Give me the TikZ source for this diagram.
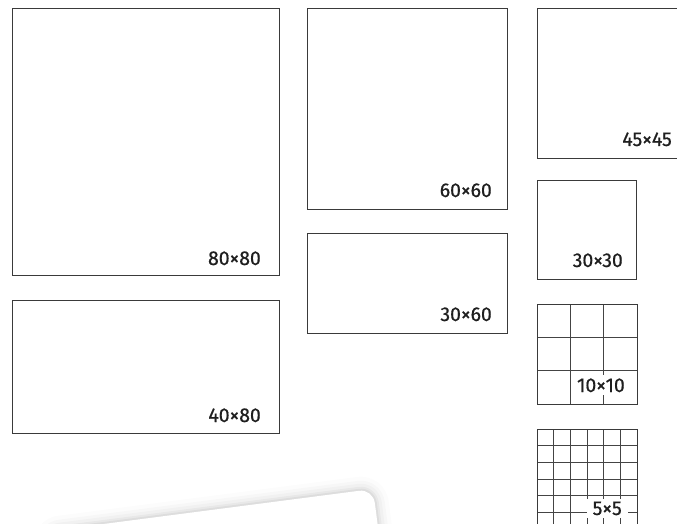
\documentclass[tikz,border=0pt]{standalone}
\usepackage{fontspec}
\setmainfont{Fira Sans}
\newfontfamily\labelfont{Fira Sans}[FakeBold=0.6, FakeStretch=0.97]
\definecolor{edge}{HTML}{3A3A3A}
\definecolor{gridc}{HTML}{444444}
\tikzset{
  box/.style={draw=edge, line width=1pt},
  gridline/.style={draw=gridc, line width=1pt},
  sizelabel/.style={font=\labelfont\fontsize{20}{20}\selectfont, text=black!88, fill=white,
    inner xsep=4pt, inner ysep=3pt, anchor=base east},
}
\begin{document}
\begin{tikzpicture}[x=1pt,y=-1pt]
\path[use as bounding box, clip] (0,0) rectangle (677,524);
\fill[white] (0,0) rectangle (677,524);
% tilted card with soft shadow
\begin{scope}[shift={(373,489)}, rotate=7.4]
  \foreach \s/\o in {14/0.012,10/0.018,7/0.025,4/0.035,2/0.045}{
    \fill[black, opacity=\o, rounded corners=14+\s] (-330-\s,-\s) rectangle (\s,140);
  }
  \fill[white, rounded corners=14] (-330,0) rectangle (0,140);
\end{scope}
% boxes
\draw[box] (12,9) rectangle (279,275);
\draw[box] (12,300) rectangle (279,433);
\draw[box] (307,9) rectangle (507,209);
\draw[box] (307,233) rectangle (507,333);
\draw[box] (537,9) rectangle (687,158);
\draw[box] (537,180) rectangle (636,279);
% 10x10 grid
\foreach \i in {1,2}{
  \draw[gridline] (537+33.33*\i,304) -- (537+33.33*\i,404);
  \draw[gridline] (537,304+33.33*\i) -- (637,304+33.33*\i);
}
\draw[box] (537,304) rectangle (637,404);
% 5x5 grid
\foreach \i in {1,...,5}{
  \draw[gridline] (537+16.67*\i,429) -- (537+16.67*\i,530);
}
\foreach \i in {1,...,6}{
  \draw[gridline] (537,429+16.67*\i) -- (637,429+16.67*\i);
}
\draw[box] (537,530) -- (537,429) -- (637,429) -- (637,530);
% labels
\node[sizelabel] (l80) at (265,265) {80×80};
\node[sizelabel] (l4080) at (265,422) {40×80};
\node[sizelabel] (l60) at (496,197) {60×60};
\node[sizelabel] (l3060) at (496,321) {30×60};
\node[sizelabel] (l45) at (676,146) {45×45};
\node[sizelabel] (l30) at (627,267) {30×30};
\node[sizelabel] (l10) at (629,392) {10×10};
\node[sizelabel, inner xsep=6pt, inner ysep=3pt] (l5) at (628,515) {5×5};
\end{tikzpicture}
\end{document}
